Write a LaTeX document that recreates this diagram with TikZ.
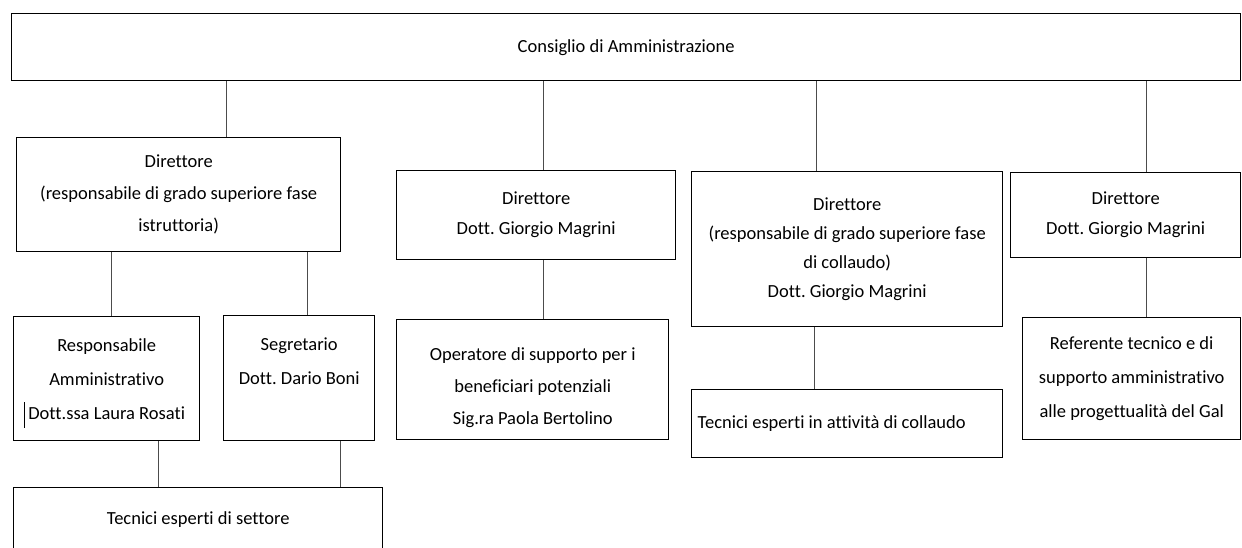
\documentclass[tikz,border=0pt]{standalone}
\usepackage{fontspec}
\setmainfont{Carlito}[Ligatures=NoCommon]
\frenchspacing

\tikzset{
  box/.style={draw, line width=1.4pt, anchor=north west, inner sep=0pt,
    align=center, font=\fontsize{18.5}{30}\selectfont},
  link/.style={draw=black!70, line width=0.8pt},
}

\begin{document}
\begin{tikzpicture}[x=1pt,y=-1pt]
    \useasboundingbox (0,0) rectangle (1242,548);
    \clip (0,0) rectangle (1242,548);

    % Vertice
    \node[box, minimum width=1229pt, minimum height=67pt] (cda) at (11,13) {Consiglio di Amministrazione};

    % Direttori
    \node[box, minimum width=324pt, minimum height=114pt, font=\fontsize{18.5}{32}\selectfont] (dir1) at (16,137)
        {Direttore\\(responsabile di grado superiore fase\\istruttoria)};
    \node[box, minimum width=279pt, minimum height=89pt] (dir2) at (396,170)
        {Direttore\\Dott. Giorgio Magrini};
    \node[box, minimum width=311pt, minimum height=155pt, font=\fontsize{18.5}{29}\selectfont] (dir3) at (691,171)
        {Direttore\\(responsabile di grado superiore fase\\di collaudo)\\Dott. Giorgio Magrini};
    \node[box, minimum width=230pt, minimum height=85pt] (dir4) at (1010,172)
        {Direttore\\Dott. Giorgio Magrini};

    % Terzo livello
    \node[box, minimum width=186pt, minimum height=124pt, font=\fontsize{18.5}{34}\selectfont] (resp) at (13,316)
        {Responsabile\\Amministrativo\\Dott.ssa Laura Rosati};
    \node[box, minimum width=151pt, minimum height=125pt, font=\fontsize{18.5}{34}\selectfont] (segr) at (223,315)
        {Segretario\\Dott. Dario Boni\\~};
    \node[box, minimum width=272pt, minimum height=120pt, font=\fontsize{18.5}{32}\selectfont] (oper) at (396,319)
        {\rule{0pt}{28pt}Operatore di supporto per i\\beneficiari potenziali\\Sig.ra Paola Bertolino};
    \node[box, minimum width=311pt, minimum height=68pt] (coll) at (691,389)
        {\makebox[299pt][l]{Tecnici esperti in attività di collaudo}};
    \node[box, minimum width=218pt, minimum height=122pt, font=\fontsize{18.5}{34}\selectfont] (refe) at (1022,317)
        {Referente tecnico e di\\supporto amministrativo\\alle progettualità del Gal};

    % Quarto livello
    \node[box, minimum width=369pt, minimum height=63pt] (tecn) at (13,487) {Tecnici esperti di settore};

    % Collegamenti
    \draw[link] (cda.south -| 226,0) -- (dir1.north -| 226,0);
    \draw[link] (cda.south -| 543,0) -- (dir2.north -| 543,0);
    \draw[link] (cda.south -| 816,0) -- (dir3.north -| 816,0);
    \draw[link] (cda.south -| 1146,0) -- (dir4.north -| 1146,0);
    \draw[link] (dir1.south -| 111,0) -- (resp.north -| 111,0);
    \draw[link] (dir1.south -| 307,0) -- (segr.north -| 307,0);
    \draw[link] (dir2.south -| 543,0) -- (oper.north -| 543,0);
    \draw[link] (dir3.south -| 814,0) -- (coll.north -| 814,0);
    \draw[link] (dir4.south -| 1146,0) -- (refe.north -| 1146,0);
    \draw[link] (resp.south -| 158,0) -- (tecn.north -| 158,0);
    \draw[link] (segr.south -| 340,0) -- (tecn.north -| 340,0);

    % segno del cursore
    \draw[line width=0.6pt] (24,402) -- (24,428);
\end{tikzpicture}
\end{document}
